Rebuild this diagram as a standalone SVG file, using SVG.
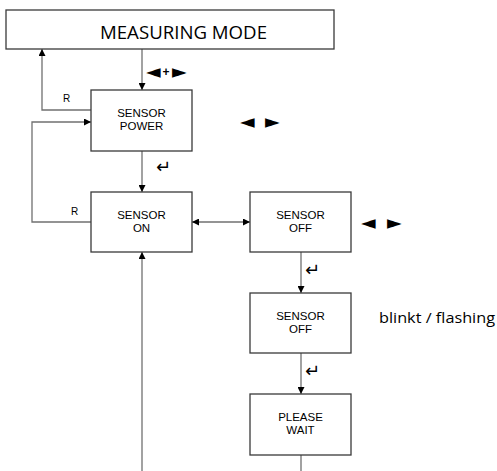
<svg xmlns="http://www.w3.org/2000/svg" width="497" height="471" viewBox="0 0 497 471">
<style>
.box{fill:#fff;stroke:#3a3a3a;stroke-width:1.3}
.t{font-family:"Liberation Sans",Arial,sans-serif;font-size:11.5px;fill:#000;text-anchor:middle}
.big{font-family:"Open Sans","Noto Sans",sans-serif;font-size:18px;fill:#000}
.lbl{font-family:"Liberation Sans",Arial,sans-serif;font-size:10px;fill:#000}
.sym{font-family:"DejaVu Sans",sans-serif;font-size:19px;fill:#000;dominant-baseline:central}
.plus{font-family:"Liberation Sans",Arial,sans-serif;font-size:12px;font-weight:bold;fill:#000}
.ret{font-family:"DejaVu Sans",sans-serif;font-size:18px;fill:#000;dominant-baseline:central}
.c{fill:none;stroke:#707070;stroke-width:1.3}
</style>
<defs>
<marker id="ah" viewBox="0 0 10 10" refX="10" refY="5" markerWidth="7" markerHeight="7" markerUnits="userSpaceOnUse" orient="auto-start-reverse">
<path d="M0,0 L10,5 L0,10 z" fill="#000"/>
</marker>
</defs>
<g id="connectors">
<path class="c" d="M142,49 V90" marker-end="url(#ah)"/>
<path class="c" d="M91,110 H42 V49" marker-end="url(#ah)"/>
<path class="c" d="M91,222 H32 V122 H91" marker-end="url(#ah)"/>
<path class="c" d="M142,151 V192" marker-end="url(#ah)"/>
<path class="c" d="M192,222 H250" marker-start="url(#ah)" marker-end="url(#ah)"/>
<path class="c" d="M301,252 V293" marker-end="url(#ah)"/>
<path class="c" d="M301,353 V394" marker-end="url(#ah)"/>
<path class="c" d="M301,455 V471"/>
<path class="c" d="M142,471 V252" marker-end="url(#ah)"/>
<text class="sym" x="146" y="70.5">◄</text>
<text class="plus" x="162.5" y="75.5">+</text>
<text class="sym" x="172" y="70.5">►</text>
<text class="lbl" x="63" y="102">R</text>
<text class="lbl" x="71" y="215">R</text>
<text class="ret" x="156" y="166">↵</text>
<text class="ret" x="305" y="269">↵</text>
<text class="ret" x="305" y="370">↵</text>
</g>
<g id="measuring-mode">
<rect class="box" x="6" y="10" width="328" height="39"/>
<text class="big" x="100" y="39" textLength="167" lengthAdjust="spacingAndGlyphs">MEASURING MODE</text>
</g>
<g id="sensor-power">
<rect class="box" x="91" y="90" width="101" height="61"/>
<text class="t" x="141.5" y="117">SENSOR</text>
<text class="t" x="141.5" y="130">POWER</text>
</g>
<g id="sensor-power-keys"><text class="sym" x="240" y="120.7">◄</text><text class="sym" x="265" y="120.7">►</text></g>
<g id="sensor-on">
<rect class="box" x="91" y="192" width="101" height="60"/>
<text class="t" x="141.5" y="219">SENSOR</text>
<text class="t" x="141.5" y="232">ON</text>
</g>
<g id="sensor-off">
<rect class="box" x="250" y="192" width="101" height="60"/>
<text class="t" x="300.5" y="219">SENSOR</text>
<text class="t" x="300.5" y="232">OFF</text>
</g>
<g id="sensor-off-keys"><text class="sym" x="361" y="222">◄</text><text class="sym" x="387" y="222">►</text></g>
<g id="sensor-off-flashing">
<rect class="box" x="250" y="293" width="101" height="60"/>
<text class="t" x="300.5" y="319.5">SENSOR</text>
<text class="t" x="300.5" y="333">OFF</text>
</g>
<g id="flashing-note">
<text class="big" style="font-size:15px" x="379" y="323" textLength="116" lengthAdjust="spacingAndGlyphs">blinkt / flashing</text>
</g>
<g id="please-wait">
<rect class="box" x="250" y="394" width="101" height="61"/>
<text class="t" x="300.5" y="420.5">PLEASE</text>
<text class="t" x="300.5" y="434">WAIT</text>
</g>
</svg>
